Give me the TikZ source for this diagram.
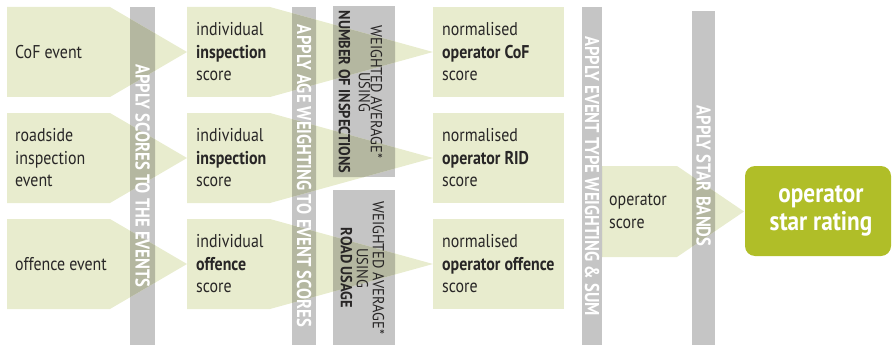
\documentclass[tikz,border=0pt]{standalone}
\usepackage{fontspec}
\setmainfont{PT Sans}[FakeStretch=0.86]
\newfontfamily\barfont{PT Sans}[FakeStretch=0.83]
\newfontfamily\wafont{PT Sans}[FakeStretch=0.9]
\definecolor{evgreen}{RGB}{232,236,206}
\definecolor{evdark}{RGB}{180,183,160}
\definecolor{bargray}{RGB}{197,197,197}
\definecolor{stargreen}{RGB}{176,190,40}
\definecolor{txtgray}{RGB}{40,38,38}
\tikzset{
  evbox/.style={fill=evgreen},
  evover/.style={fill=evdark},
  barbox/.style={fill=bargray},
  starbox/.style={fill=stargreen, rounded corners=10pt},
  bartext/.style={rotate=-90, text=white, inner sep=0pt, font=\barfont\bfseries\fontsize{20}{20}\selectfont},
  boxtext/.style={anchor=west, align=left, text=txtgray, inner sep=0pt, font=\fontsize{18.5}{22.5}\selectfont},
  watext/.style={rotate=-90, align=center, text=txtgray, inner sep=0pt, font=\wafont\fontsize{16}{12}\selectfont},
}
% the arrow shaped boxes of all three rows and the operator score
\newcommand\evshapes[1]{%
  \foreach \y in {7,113,219} {
    \fill[#1] (7,\y) -- (110,\y) -- (187,\y+45) -- (110,\y+90) -- (7,\y+90) -- cycle;
    \fill[#1] (187,\y) -- (270,\y) -- (433,\y+45) -- (270,\y+90) -- (187,\y+90) -- cycle;
    \fill[#1] (433,\y) rectangle (564,\y+90);
  }
  \fill[#1] (602,166) -- (677,166) -- (744,211.5) -- (677,257) -- (602,257) -- cycle;
}

\begin{document}
\begin{tikzpicture}[x=1pt,y=-1pt]
\useasboundingbox (0,0) rectangle (892,345);
% grey bands
\fill[barbox] (130,7) rectangle (155,345);
\fill[barbox] (292,7) rectangle (316,345);
\fill[barbox] (333,6) rectangle (395,177);
\fill[barbox] (333,190) rectangle (395,345);
\fill[barbox] (582,7) rectangle (602,345);
\fill[barbox] (692,11) rectangle (715,345);
\evshapes{evbox}
% darker where the boxes run over the bands
\begin{scope}
  \clip (130,7) rectangle (155,345) (292,7) rectangle (316,345)
        (333,6) rectangle (395,177) (333,190) rectangle (395,345)
        (582,7) rectangle (602,345) (692,11) rectangle (715,345);
  \evshapes{evover}
\end{scope}
\fill[starbox] (745,166) rectangle (891,256);

\node[bartext] (band1) at (142.5,176) {APPLY SCORES TO THE EVENTS};
\node[bartext] (band2) at (304,176) {APPLY AGE WEIGHTING TO EVENT SCORES};
\node[bartext] (band3) at (592,176) {APPLY EVENT TYPE WEIGHTING \& SUM};
\node[bartext] (band4) at (703.5,176) {APPLY STAR BANDS};
\node[watext] (wavg1) at (360.5,92) {WEIGHTED AVERAGE*\\USING\\[8pt]\textbf{NUMBER OF INSPECTIONS}};
\node[watext] (wavg2) at (362.5,268) {WEIGHTED AVERAGE*\\[4pt]USING\\[4pt]\textbf{ROAD USAGE}};

\node[boxtext] (cof) at (15,52) {CoF event};
\node[boxtext] (rid) at (15,158) {roadside\\inspection\\event};
\node[boxtext] (off) at (15,264) {offence event};
\node[boxtext] (indcof) at (196,52) {individual\\\textbf{inspection}\\score};
\node[boxtext] (indrid) at (196,158) {individual\\\textbf{inspection}\\score};
\node[boxtext] (indoff) at (196,264) {individual\\\textbf{offence}\\score};
\node[boxtext] (normcof) at (442,52) {normalised\\\textbf{operator CoF}\\score};
\node[boxtext] (normrid) at (442,158) {normalised\\\textbf{operator RID}\\score};
\node[boxtext] (normoff) at (442,264) {normalised\\\textbf{operator offence}\\score};
\node[boxtext] (opscore) at (609,211.5) {operator\\score};
\node[align=center, text=white, font=\bfseries\fontsize{27}{28}\selectfont] (rating) at (821,211) {operator\\star rating};
\end{tikzpicture}
\end{document}
